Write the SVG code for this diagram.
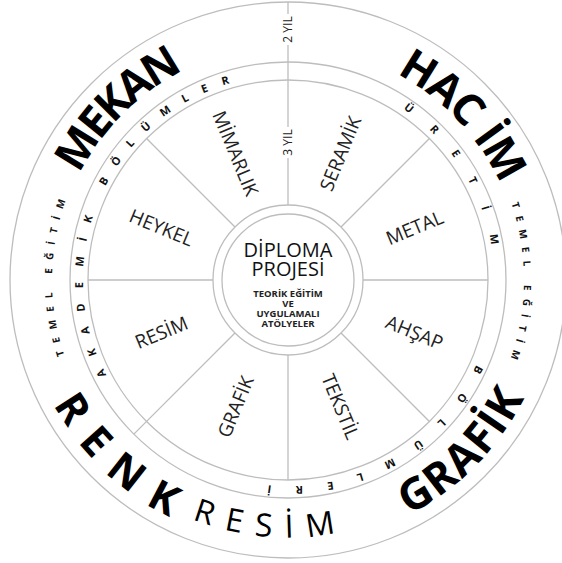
<svg xmlns="http://www.w3.org/2000/svg" xmlns:xlink="http://www.w3.org/1999/xlink" width="562" height="563" viewBox="0 0 562 563">
<style>
.ring{fill:none;stroke:#bdbdbd;stroke-width:1.3}
.spoke{stroke:#bdbdbd;stroke-width:1.3}
.big{font-family:"Open Sans","Liberation Sans",sans-serif;font-weight:700;font-size:44px;fill:#000;text-anchor:middle}
.renk{font-family:"Open Sans","Liberation Sans",sans-serif;font-weight:700;font-size:42px;fill:#000;text-anchor:middle;letter-spacing:17px}
.resim{font-family:"Open Sans","Liberation Sans",sans-serif;font-size:32px;fill:#000;text-anchor:middle;letter-spacing:13.4px}
.small{font-family:"Open Sans","Liberation Sans",sans-serif;font-weight:700;font-size:11px;fill:#111;text-anchor:middle}
.tem{font-family:"Open Sans","Liberation Sans",sans-serif;font-weight:700;font-size:10px;fill:#111;text-anchor:middle;letter-spacing:8px}
.sec{font-family:"Open Sans","Liberation Sans",sans-serif;font-size:19px;fill:#222;text-anchor:middle}
.cen{font-family:"Open Sans","Liberation Sans",sans-serif;font-size:20px;fill:#111;text-anchor:middle}
.cens{font-family:"Open Sans","Liberation Sans",sans-serif;font-weight:700;font-size:9.5px;fill:#222;text-anchor:middle}
.yil{font-family:"Open Sans","Liberation Sans",sans-serif;font-size:12px;fill:#222;text-anchor:middle}
</style>
<defs>
<path id="cw234" d="M54,280 A234,234 0 0 1 522,280"/>
<path id="cw233" d="M55,280 A233,233 0 0 1 521,280"/>
<path id="cw205" d="M83,280 A205,205 0 0 1 493,280"/>
<path id="cw206" d="M82,280 A206,206 0 0 1 494,280"/>
<path id="cw236" d="M52,280 A236,236 0 0 1 524,280"/>
<path id="ccw264" d="M24,280 A264,264 0 0 0 552,280"/>
<path id="ccw265" d="M23,280 A265,265 0 0 0 553,280"/>
<path id="ccw257" d="M30.5,280 A257.5,257.5 0 0 0 545.5,280"/>
</defs>
<rect width="562" height="563" fill="#fff"/>
<g id="rings">
<circle class="ring" cx="288" cy="280" r="278"/>
<circle class="ring" cx="288" cy="280" r="218"/>
<circle class="ring" cx="288" cy="280" r="200"/>
</g>
<g id="connectors">
<line class="spoke" x1="288" y1="2" x2="288" y2="205"/>
<line class="spoke" x1="288" y1="355" x2="288" y2="480"/>
<line class="spoke" x1="88" y1="280" x2="213" y2="280"/>
<line class="spoke" x1="363" y1="280" x2="488" y2="280"/>
<line class="spoke" x1="234.97" y1="226.97" x2="146.58" y2="138.58"/>
<line class="spoke" x1="341.03" y1="226.97" x2="429.42" y2="138.58"/>
<line class="spoke" x1="341.03" y1="333.03" x2="429.42" y2="421.42"/>
<line class="spoke" x1="234.97" y1="333.03" x2="133.85" y2="434.15"/>
</g>
<g id="year-labels">
<rect x="281" y="14" width="14" height="31" fill="#fff"/>
<text class="yil" transform="translate(288,29.5) rotate(-90)" dy="4.3">2 YIL</text>
<rect x="281" y="127" width="14" height="31" fill="#fff"/>
<text class="yil" transform="translate(288,142.5) rotate(-90)" dy="4.3">3 YIL</text>
</g>
<g id="outer-ring-texts">
<text class="big" letter-spacing="-3" transform="rotate(-45.1 288 280)"><textPath xlink:href="#cw234" startOffset="50%">MEKAN</textPath></text>
<text class="big" letter-spacing="-1.5" transform="rotate(46.6 288 280)"><textPath xlink:href="#cw233" startOffset="50%">HA<tspan letter-spacing="11">C</tspan>İM</textPath></text>
<text class="big" letter-spacing="1.5" transform="rotate(-45.5 288 280)"><textPath xlink:href="#ccw264" startOffset="50%">GRAFİK</textPath></text>
<text class="renk" transform="rotate(42.45 288 280)"><textPath xlink:href="#ccw265" startOffset="50%">RENK</textPath></text>
<text class="resim" transform="rotate(4.06 288 280)"><textPath xlink:href="#ccw257" startOffset="50%">RESİM</textPath></text>
<text class="tem" transform="rotate(-88.5 288 280)"><textPath xlink:href="#cw236" startOffset="50%">TEMEL EĞİTİM</textPath></text>
<text class="tem" transform="rotate(91.2 288 280)"><textPath xlink:href="#cw236" startOffset="50%">TEMEL EĞİTİM</textPath></text>
</g>
<g id="inner-ring-texts">
<text class="small" letter-spacing="15" transform="rotate(-65 288 280)"><textPath xlink:href="#cw205" startOffset="50%">AKADEMİK BÖLÜMLER</textPath></text>
<text class="small" letter-spacing="24.8" transform="rotate(60.5 288 280)"><textPath xlink:href="#cw206" startOffset="50%">ÜRETİM</textPath></text>
<text class="small" letter-spacing="24" transform="rotate(153.2 288 280)"><textPath xlink:href="#cw206" startOffset="50%">BÖLÜMLERİ</textPath></text>
</g>
<g id="sectors">
<text id="mimarlik" class="sec" transform="translate(235.6,153.4) rotate(67.5)" dy="6.8">MİMARLIK</text>
<text id="seramik" class="sec" transform="translate(340.4,153.4) rotate(-67.5)" dy="6.8">SERAMİK</text>
<text id="metal" class="sec" transform="translate(414.6,227.6) rotate(-22.5)" dy="6.8">METAL</text>
<text id="ahsap" class="sec" transform="translate(414.6,332.4) rotate(22.5)" dy="6.8">AHŞAP</text>
<text id="tekstil" class="sec" transform="translate(340.4,406.6) rotate(67.5)" dy="6.8">TEKSTİL</text>
<text id="grafik" class="sec" transform="translate(235.6,406.6) rotate(-67.5)" dy="6.8">GRAFİK</text>
<text id="resim" class="sec" transform="translate(161.4,332.4) rotate(-22.5)" dy="6.8">RESİM</text>
<text id="heykel" class="sec" transform="translate(161.4,227.6) rotate(22.5)" dy="6.8">HEYKEL</text>
</g>
<g id="center">
<circle class="ring" cx="288" cy="280" r="75"/>
<circle class="ring" cx="288" cy="280" r="66"/>
<text class="cen"><tspan x="288" y="257">DİPLOMA</tspan><tspan x="288" y="276">PROJESİ</tspan></text>
<text class="cens"><tspan x="288" y="296.5">TEORİK EĞİTİM</tspan><tspan x="288" y="306.5">VE</tspan><tspan x="288" y="316.5">UYGULAMALI</tspan><tspan x="288" y="326.5">ATÖLYELER</tspan></text>
</g>
</svg>
